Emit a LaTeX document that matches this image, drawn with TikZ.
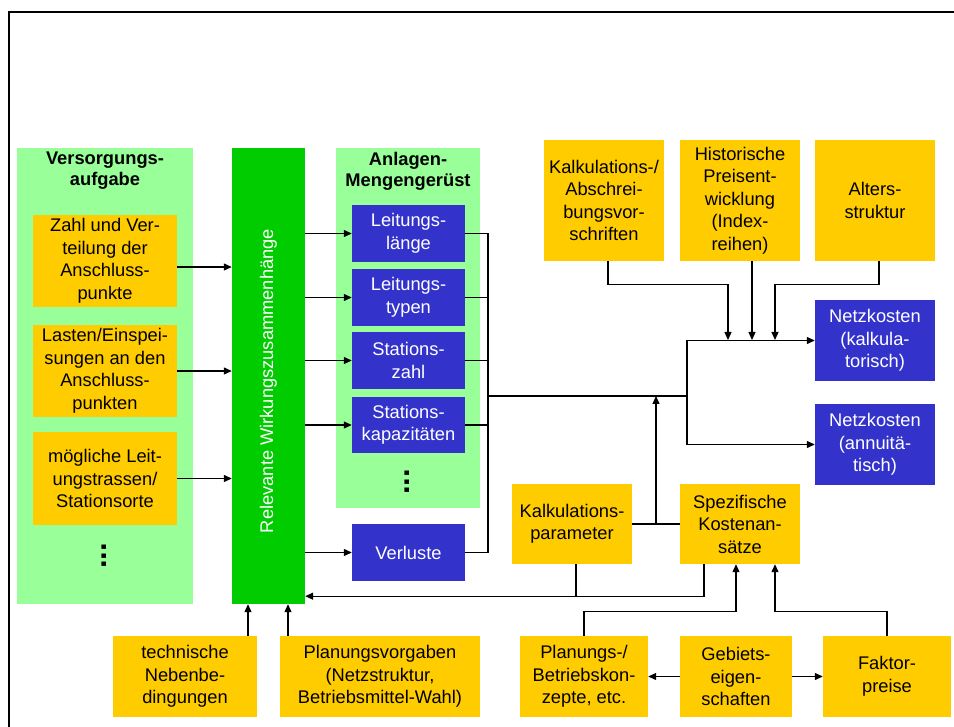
\documentclass[tikz,border=0pt]{standalone}
\usepackage{fontspec}
\setmainfont{Liberation Sans}
\usetikzlibrary{arrows.meta}
\definecolor{panelgreen}{HTML}{99FF99}
\definecolor{bargreen}{HTML}{00CC00}
\definecolor{boxorange}{HTML}{FFCC00}
\definecolor{boxblue}{HTML}{3333CC}
\begin{document}
\begin{tikzpicture}[x=1pt,y=-1pt,
  every node/.style={inner sep=0pt, align=center,
    font=\fontsize{18.3}{22.5}\selectfont},
  panel/.style={fill=panelgreen},
  heading/.style={font=\fontsize{18.3}{21}\selectfont\bfseries},
  vdots/.style={font=\fontsize{31}{31}\selectfont\bfseries, rotate=90, anchor=base},
  obox/.style={fill=boxorange, text=black},
  bbox/.style={fill=boxblue, text=white},
  link/.style={line width=1.2pt, draw=black},
  arr/.style={link, -{Triangle[length=8pt,width=7pt]}},
]
\useasboundingbox (0,0) rectangle (954,727);
\fill[white] (0,0) rectangle (954,727);
% outer frame
\draw[line width=2pt] (954,12) -- (9,12) -- (9,727);

% left panel: supply task
\node[panel, minimum width=176pt, minimum height=456pt] (pV) at (105,376) {};
\node[heading] (hV) at (105,171) {Versorgungs-\\aufgabe};
\node[obox, minimum width=144pt, minimum height=92pt] (z1) at (105,261)
  {Zahl und Ver-\\teilung der\\Anschluss-\\punkte};
\node[obox, minimum width=144pt, minimum height=92pt] (z2) at (105,371)
  {Lasten/Einspei-\\sungen an den\\Anschluss-\\punkten};
\node[obox, minimum width=144pt, minimum height=93pt] (z3) at (105,478.5)
  {mögliche Leit-\\ungstrassen/\\Stationsorte};
\node[vdots] (dV) at (106,556) {...};

% central bar
\node[fill=bargreen, minimum width=73pt, minimum height=456pt] (bar) at (268.5,376) {};
\node[rotate=90, text=white] (barlabel) at (268.5,381) {Relevante Wirkungszusammenhänge};

% asset quantity panel
\node[panel, minimum width=144pt, minimum height=360pt] (pA) at (408,328) {};
\node[heading] (hA) at (408,171) {Anlagen-\\Mengengerüst};
\node[bbox, minimum width=113pt, minimum height=57pt] (b1) at (408.5,233.5) {Leitungs-\\länge};
\node[bbox, minimum width=113pt, minimum height=57pt] (b2) at (408.5,297.5) {Leitungs-\\typen};
\node[bbox, minimum width=113pt, minimum height=57pt] (b3) at (408.5,360.5) {Stations-\\zahl};
\node[bbox, minimum width=113pt, minimum height=56pt] (b4) at (408.5,425) {Stations-\\kapazitäten};
\node[vdots] (dA) at (409,482) {...};
\node[bbox, minimum width=113pt, minimum height=57pt] (b5) at (408.5,552.5) {Verluste};

% cost inputs
\node[obox, minimum width=120pt, minimum height=121pt] (t1) at (604,200.5)
  {Kalkulations-/\\Abschrei-\\bungsvor-\\schriften};
\node[obox, minimum width=120pt, minimum height=121pt] (t2) at (740,200.5)
  {Historische\\Preisent-\\wicklung\\(Index-\\reihen)};
\node[obox, minimum width=120pt, minimum height=121pt] (t3) at (875,200.5)
  {Alters-\\struktur};
\node[bbox, minimum width=120pt, minimum height=81pt] (nk1) at (875,340.5)
  {Netzkosten\\(kalkula-\\torisch)};
\node[bbox, minimum width=120pt, minimum height=81pt] (nk2) at (875,444.5)
  {Netzkosten\\(annuitä-\\tisch)};
\node[obox, minimum width=120pt, minimum height=80pt] (kp) at (572,524)
  {Kalkulations-\\parameter};
\node[obox, minimum width=120pt, minimum height=80pt] (sk) at (740,524)
  {Spezifische\\Kostenan-\\sätze};

% bottom row
\node[obox, minimum width=144pt, minimum height=81pt] (tn) at (185,676.5)
  {technische\\Nebenbe-\\dingungen};
\node[obox, minimum width=200pt, minimum height=81pt] (pv) at (380,676.5)
  {Planungsvorgaben\\(Netzstruktur,\\Betriebsmittel-Wahl)};
\node[obox, minimum width=128pt, minimum height=81pt] (pb) at (584,676.5)
  {Planungs-/\\Betriebskon-\\zepte, etc.};
\node[obox, minimum width=112pt, minimum height=81pt] (ge) at (736,676.5)
  {Gebiets-\\eigen-\\schaften};
\node[obox, minimum width=128pt, minimum height=81pt] (fp) at (887,676.5)
  {Faktor-\\preise};

% junction points
\coordinate (bus) at (488,396);
\coordinate (split) at (687,396);
\coordinate (in1) at (728,340);
\coordinate (in2) at (752,340);
\coordinate (in3) at (775,340);
\coordinate (kpj) at (656,524);
\path (bar.south east) ++(0,-8) coordinate (fb);

% supply task into the bar
\draw[arr] ([yshift=-6pt]z1.east) -- ([yshift=-6pt]z1.east -| bar.west);
\draw[arr] (z2.east) -- (z2.east -| bar.west);
\draw[arr] (z3.east) -- (z3.east -| bar.west);

% bar into the asset quantities
\foreach \b in {b1,b2,b3,b4,b5}
  \draw[arr] (\b.west -| bar.east) -- (\b.west);

% asset quantities onto the bus
\foreach \b in {b1,b2,b3,b4,b5}
  \draw[link] (\b.east) -| (bus);
\draw[link] (bus) -- (split);
\draw[arr] (split) |- (nk1.west);
\draw[arr] (split) |- (nk2.west);

% cost inputs from above
\draw[arr] ([xshift=4pt]t1.south) -- ++(0,23) -| (in1);
\draw[arr] ([xshift=12pt]t2.south) -- (in2);
\draw[arr] ([xshift=4pt]t3.south) -- ++(0,23) -| (in3);

% calculation parameters and specific cost rates
\draw[link] (kp.east) -- (sk.west);
\draw[arr] (kpj) -- (kpj |- bus);
\draw[link] ([xshift=4pt]kp.south) -- ([xshift=4pt]kp.south |- fb);
\draw[arr] ([xshift=-36pt]sk.south) |- (fb);

% constraints into the bar
\draw[arr] ([xshift=63pt]tn.north) -- ([xshift=63pt]tn.north |- bar.south);
\draw[arr] ([xshift=-92pt]pv.north) -- ([xshift=-92pt]pv.north |- bar.south);

% bottom right inputs
\draw[arr] (pb.north) -- ++(0,-24) -| ([xshift=-4pt]sk.south);
\draw[arr] (fp.north) -- ++(0,-24) -| ([xshift=35pt]sk.south);
\draw[arr] (ge.west) -- (pb.east);
\draw[arr] (ge.east) -- (fp.west);
\end{tikzpicture}
\end{document}
